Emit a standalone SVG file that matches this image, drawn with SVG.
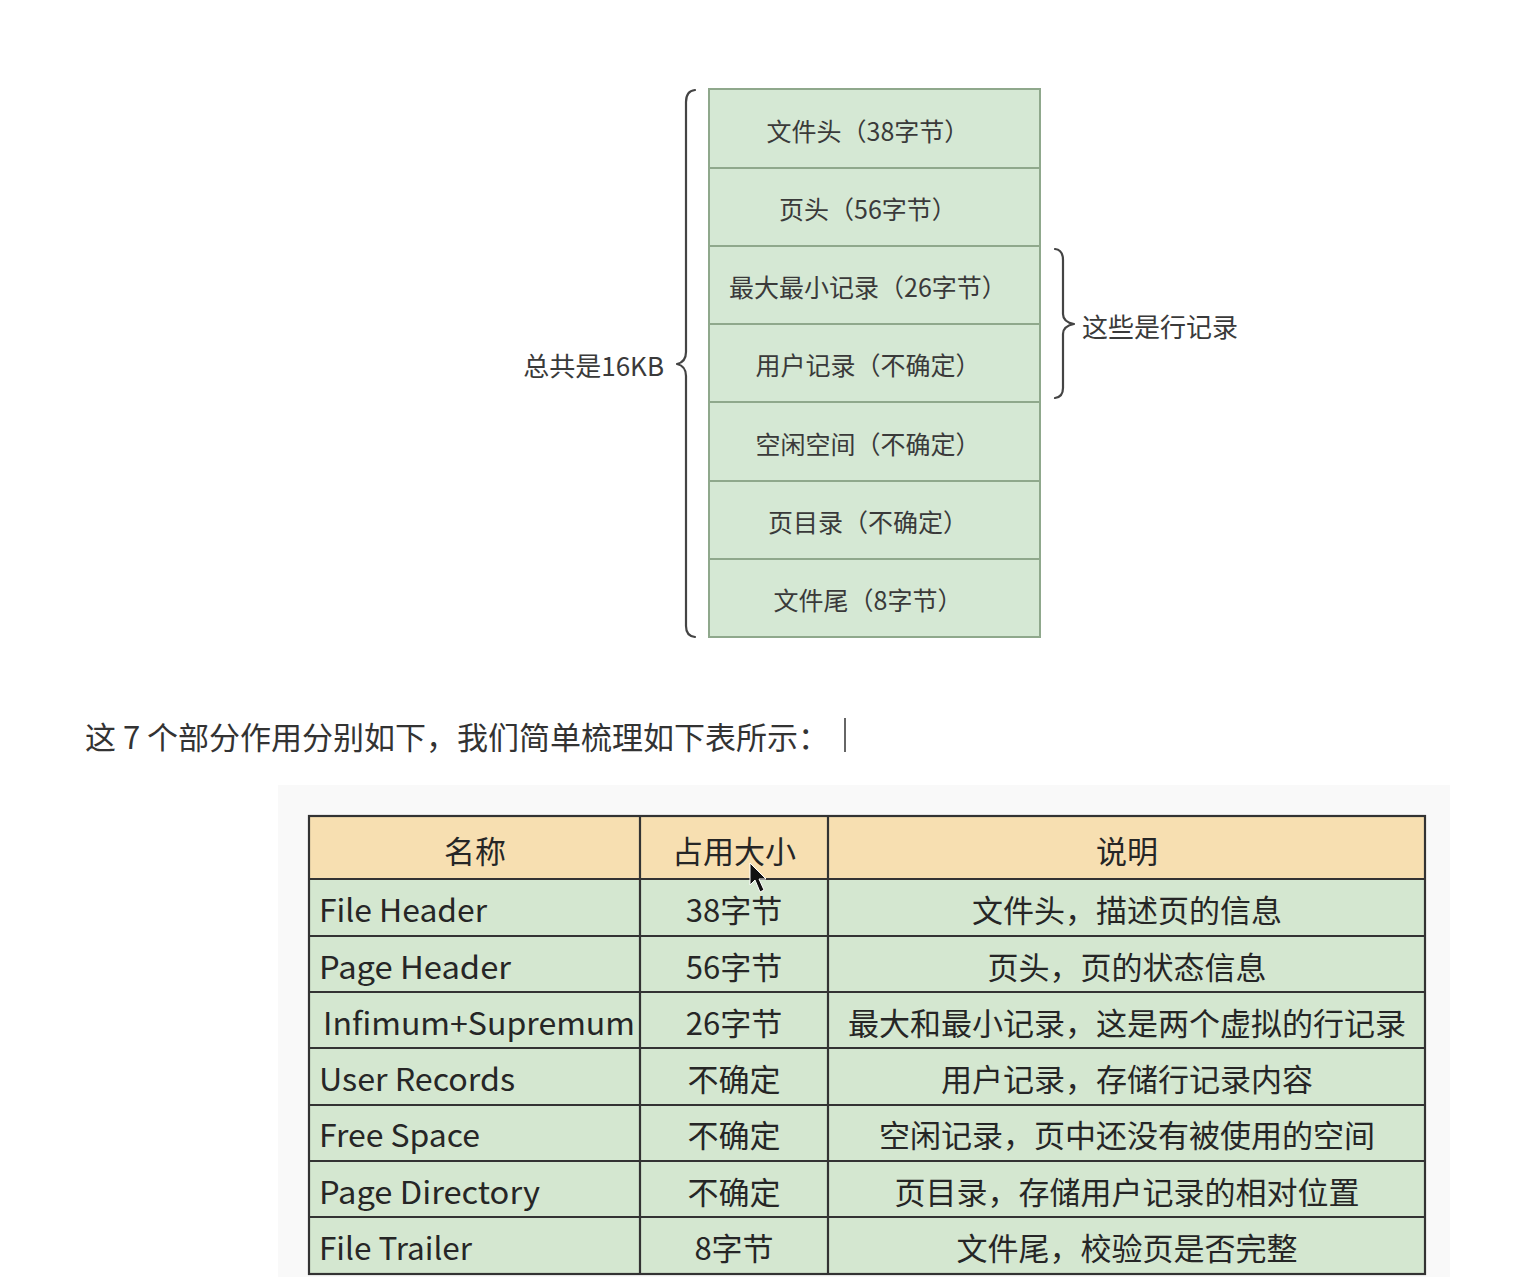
<svg xmlns="http://www.w3.org/2000/svg" width="1537" height="1277" viewBox="0 0 1537 1277">
<style>
.t{font-family:"Noto Sans CJK SC","Noto Sans",sans-serif;dominant-baseline:central}
.st{font-size:25px;fill:#3a3a3a;text-anchor:middle}
.blk{fill:#d5e8d4;stroke:#8fa88c;stroke-width:2}
.brace{fill:none;stroke:#444;stroke-width:2.2;stroke-linecap:round;stroke-linejoin:round}
.tb{font-size:31px;fill:#262626}
.c{text-anchor:middle}
.grid{stroke:#333;stroke-width:2.2;fill:none}
</style>
<rect width="1537" height="1277" fill="#ffffff"/>
<g id="page-stack">
<g id="n-file-header"><rect class="blk" x="709" y="89" width="331" height="79"/><text class="t st" x="868" y="130">文件头（38字节）</text></g>
<g id="n-page-header"><rect class="blk" x="709" y="168" width="331" height="78"/><text class="t st" x="868" y="208">页头（56字节）</text></g>
<g id="n-infimum"><rect class="blk" x="709" y="246" width="331" height="78"/><text class="t st" x="868" y="286">最大最小记录（26字节）</text></g>
<g id="n-user-records"><rect class="blk" x="709" y="324" width="331" height="78"/><text class="t st" x="868" y="364">用户记录（不确定）</text></g>
<g id="n-free-space"><rect class="blk" x="709" y="402" width="331" height="79"/><text class="t st" x="868" y="443">空闲空间（不确定）</text></g>
<g id="n-page-directory"><rect class="blk" x="709" y="481" width="331" height="78"/><text class="t st" x="868" y="521">页目录（不确定）</text></g>
<g id="n-file-trailer"><rect class="blk" x="709" y="559" width="331" height="78"/><text class="t st" x="868" y="599">文件尾（8字节）</text></g>
</g>
<g id="connectors">
<path class="brace" d="M695,90 Q686,91 686,102 L686,352 Q686,362 677,364 Q686,366 686,376 L686,626 Q686,636 695,637"/>
<path class="brace" d="M1055,249 Q1063,250 1063,260 L1063,314 Q1063,322 1074,324 Q1063,326 1063,334 L1063,388 Q1063,397 1055,398"/>
</g>
<g id="n-total-label"><text class="t" x="664" y="364" font-size="26" fill="#3a3a3a" text-anchor="end">总共是16KB</text></g>
<g id="n-row-label"><text class="t" x="1082" y="325" font-size="26" fill="#3a3a3a">这些是行记录</text></g>
<g id="n-intro"><text class="t" x="85" y="735" font-size="31" fill="#333">这 7 个部分作用分别如下，我们简单梳理如下表所示：</text><line x1="845" y1="718" x2="845" y2="752" stroke="#333" stroke-width="1.5"/></g>
<g id="table">
<rect x="278" y="785" width="1172" height="492" fill="#f9f9f9"/>
<rect x="309" y="816" width="1116" height="63" fill="#f7dfb1"/>
<rect x="309" y="879" width="1116" height="395" fill="#d4e7d0"/>
<g class="grid">
<rect x="309" y="816" width="1116" height="458"/>
<line x1="309" y1="879" x2="1425" y2="879"/>
<line x1="309" y1="936" x2="1425" y2="936"/>
<line x1="309" y1="992" x2="1425" y2="992"/>
<line x1="309" y1="1048" x2="1425" y2="1048"/>
<line x1="309" y1="1105" x2="1425" y2="1105"/>
<line x1="309" y1="1161" x2="1425" y2="1161"/>
<line x1="309" y1="1217" x2="1425" y2="1217"/>
<line x1="640" y1="816" x2="640" y2="1274"/>
<line x1="828" y1="816" x2="828" y2="1274"/>
</g>
<g class="t tb">
<text class="c" x="475" y="849">名称</text>
<text class="c" x="734" y="849">占用大小</text>
<text class="c" x="1127" y="849">说明</text>
<text x="319" y="908" textLength="168" lengthAdjust="spacingAndGlyphs">File Header</text>
<text class="c" x="734" y="908">38字节</text>
<text class="c" x="1127" y="908">文件头，描述页的信息</text>
<text x="319" y="965" textLength="192" lengthAdjust="spacingAndGlyphs">Page Header</text>
<text class="c" x="734" y="965">56字节</text>
<text class="c" x="1127" y="965">页头，页的状态信息</text>
<text x="323" y="1021" textLength="312" lengthAdjust="spacingAndGlyphs">Infimum+Supremum</text>
<text class="c" x="734" y="1021">26字节</text>
<text class="c" x="1127" y="1021">最大和最小记录，这是两个虚拟的行记录</text>
<text x="319" y="1077" textLength="196" lengthAdjust="spacingAndGlyphs">User Records</text>
<text class="c" x="734" y="1077">不确定</text>
<text class="c" x="1127" y="1077">用户记录，存储行记录内容</text>
<text x="319" y="1133" textLength="161" lengthAdjust="spacingAndGlyphs">Free Space</text>
<text class="c" x="734" y="1133">不确定</text>
<text class="c" x="1127" y="1133">空闲记录，页中还没有被使用的空间</text>
<text x="319" y="1190" textLength="221" lengthAdjust="spacingAndGlyphs">Page Directory</text>
<text class="c" x="734" y="1190">不确定</text>
<text class="c" x="1127" y="1190">页目录，存储用户记录的相对位置</text>
<text x="319" y="1246" textLength="153" lengthAdjust="spacingAndGlyphs">File Trailer</text>
<text class="c" x="734" y="1246">8字节</text>
<text class="c" x="1127" y="1246">文件尾，校验页是否完整</text>
</g>
</g>
<path d="M750,863 L750,885 L755,880 L760,892 L764,890 L759,879 L766,879 Z" fill="#111" stroke="#fff" stroke-width="1"/>
</svg>
